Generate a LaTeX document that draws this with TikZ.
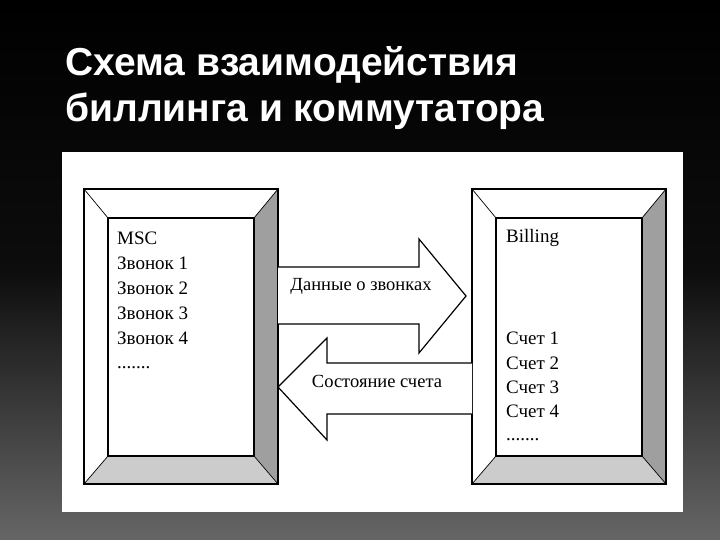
\documentclass[tikz,border=0pt]{standalone}
\usepackage{fontspec}
\setmainfont{Liberation Serif}
\newfontfamily\titlefont{Liberation Sans}
\tikzset{
  txt/.style={anchor=west,inner sep=0pt,font=\fontsize{19}{19}\selectfont},
  lbl/.style={inner sep=0pt,font=\fontsize{18.5}{19}\selectfont},
  ttl/.style={anchor=base west,inner sep=0pt,text=white,font=\titlefont\bfseries\fontsize{39}{39}\selectfont},
  ln/.style={draw=black,line width=1.2pt},
}
\begin{document}
\begin{tikzpicture}[x=1pt,y=-1pt]
\useasboundingbox (0,0) rectangle (720,540);
\shade[top color=black,bottom color=black!60!white,middle color=black!95!white] (0,0) rectangle (720,540);
\fill[white] (62,152) rectangle (683,512);
\node[ttl] (t1) at (65,76) {Схема взаимодействия};
\node[ttl] (t2) at (65,122) {биллинга и коммутатора};
% boxes
\foreach \ox/\nm in {84/L,472/R}{
  \begin{scope}[xshift=\ox]
  \fill[white] (0,189) rectangle (194,484);
  \fill[gray!75] (194,189) -- (194,484) -- (170,456) -- (170,218) -- cycle;
  \fill[gray!40] (0,484) -- (194,484) -- (170,456) -- (24,456) -- cycle;
  \draw[ln] (0,189) rectangle (194,484);
  \draw[ln] (24,218) rectangle (170,456);
  \draw[line width=0.7pt] (0,189) -- (24,218) (194,189) -- (170,218) (0,484) -- (24,456) (194,484) -- (170,456);
  \end{scope}
}
% arrows
\draw[ln,fill=white] (278,267) -- (419,267) -- (419,239) -- (466,296) -- (419,353) -- (419,324) -- (278,324);
\draw[ln,fill=white] (472,363) -- (327,363) -- (327,338) -- (278,387) -- (327,440) -- (327,414) -- (472,414);
\node[lbl] (a1) at (361,286) {Данные о звонках};
\node[lbl] (a2) at (377,381) {Состояние счета};
% texts
\node[txt] (m0) at (117,238) {MSC};
\node[txt] (m1) at (117,263) {Звонок 1};
\node[txt] (m2) at (117,288) {Звонок 2};
\node[txt] (m3) at (117,313) {Звонок 3};
\node[txt] (m4) at (117,338) {Звонок 4};
\node[txt] (m5) at (117,368) {.......};
\node[txt] (b0) at (506,238) {Billing};
\node[txt] (b1) at (506,338) {Счет 1};
\node[txt] (b2) at (506,363) {Счет 2};
\node[txt] (b3) at (506,387) {Счет 3};
\node[txt] (b4) at (506,411) {Счет 4};
\node[txt] (b5) at (506,440) {.......};
\end{tikzpicture}
\end{document}
